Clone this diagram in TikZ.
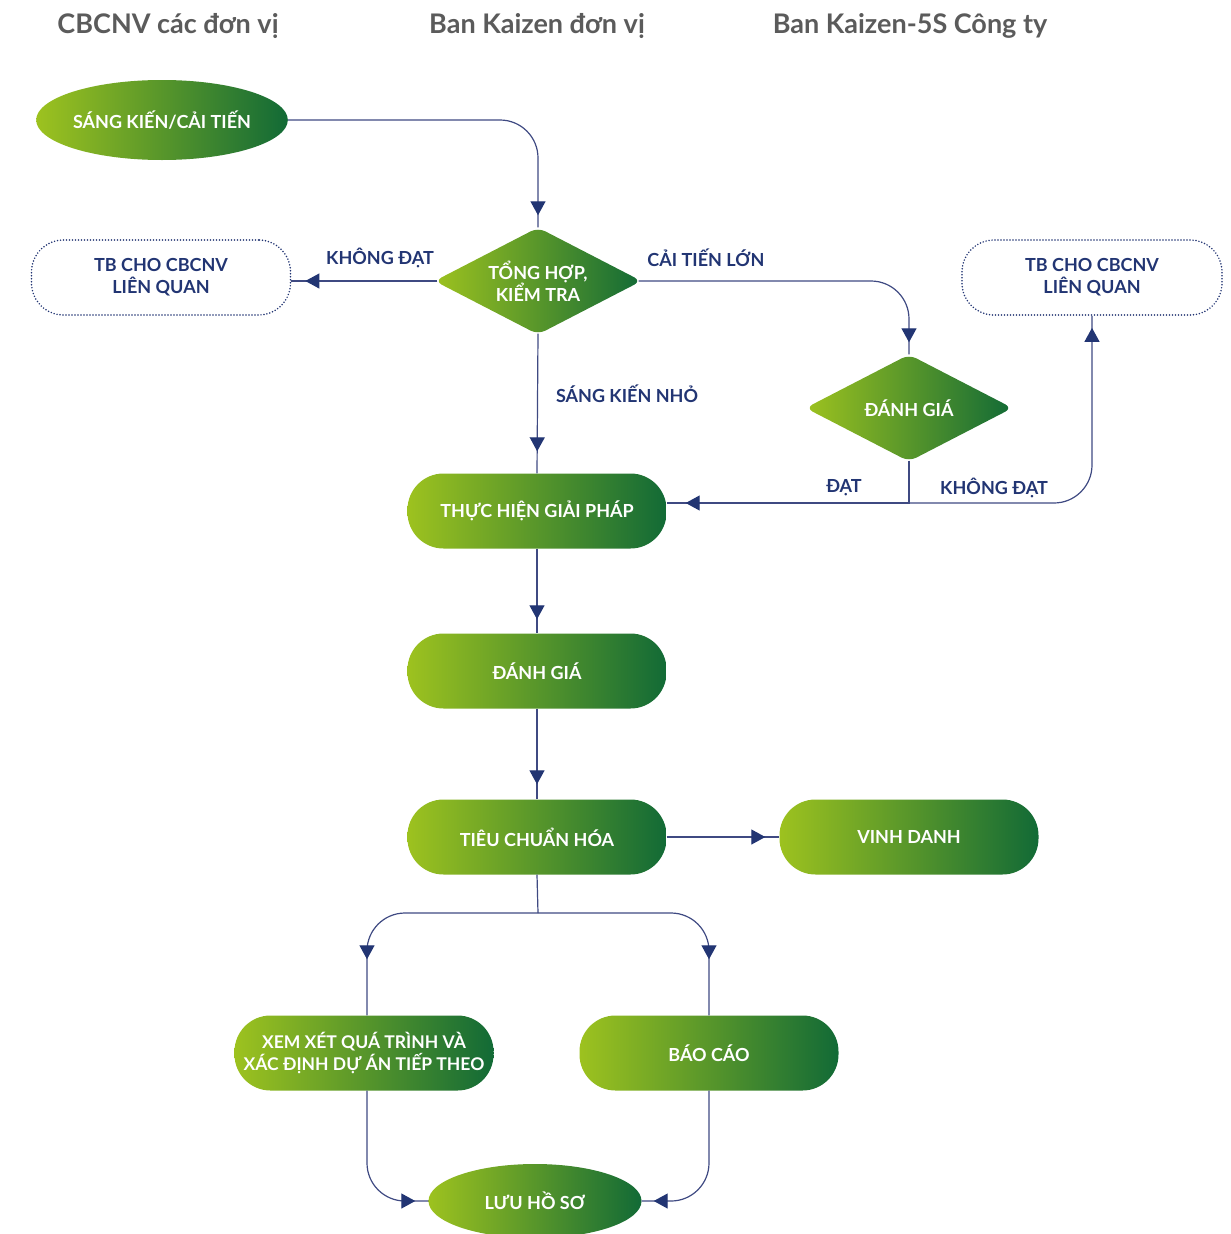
\documentclass[tikz,border=0pt]{standalone}
\usepackage{fontspec}
\setmainfont{Lato}
\usetikzlibrary{shapes.geometric,arrows.meta,decorations.markings}
\definecolor{gA}{HTML}{9DC21F}
\definecolor{gB}{HTML}{126A36}
\definecolor{navy}{HTML}{223573}
\definecolor{linec}{HTML}{3F4A82}
\definecolor{headc}{HTML}{5B5B5B}
\tikzset{
  green/.style={left color=gA, right color=gB, text=white, font=\fontsize{18}{22}\selectfont\bfseries, align=center, inner sep=0pt},
  pill/.style={green, rectangle, rounded corners=36pt, minimum width=259pt, minimum height=75pt},
  oval/.style={green, ellipse},
  dia/.style={green, diamond, shape aspect=2, rounded corners=8pt, minimum width=207pt, minimum height=107pt},
  notebox/.style={rectangle, rounded corners=32pt, draw=navy, line width=1.7pt, dash pattern=on 0pt off 3pt, line cap=round,
                  minimum width=259pt, minimum height=75pt, text=navy, font=\fontsize{18}{22}\selectfont\bfseries, align=center},
  lbl/.style={text=navy, font=\fontsize{18}{21}\selectfont\bfseries},
  head/.style={text=headc, font=\fontsize{27}{30}\selectfont\bfseries},
  link/.style={draw=linec, line width=1.2pt, postaction={decorate, decoration={markings,
     mark=at position -#1 with {\arrow{Triangle[width=15pt,length=14pt,color=navy]}}}}},
}
\begin{document}
\begin{tikzpicture}[x=1pt,y=-1pt]
\useasboundingbox (0,0) rectangle (1231,1234);

% column headings
\node[head] (h1) at (168,26) {CBCNV các đơn vị};
\node[head] (h2) at (537,26) {Ban Kaizen đơn vị};
\node[head] (h3) at (910,26) {Ban Kaizen-5S Công ty};

% process steps
\node[oval, minimum width=245pt, minimum height=80pt] (sang) at (162,120) {SÁNG KIẾN/CẢI TIẾN};
\node[dia] (tong) at (538,281) {TỔNG HỢP,\\KIỂM TRA};
\node[notebox] (tb1) at (161,277.5) {TB CHO CBCNV\\LIÊN QUAN};
\node[notebox, minimum width=260pt] (tb2) at (1092,277.5) {TB CHO CBCNV\\LIÊN QUAN};
\node[dia] (danh1) at (909,408) {ĐÁNH GIÁ};
\node[pill] (thuc) at (537,511) {THỰC HIỆN GIẢI PHÁP};
\node[pill] (danh2) at (537,671) {ĐÁNH GIÁ};
\node[pill] (tieu) at (537,837) {TIÊU CHUẨN HÓA};
\node[pill] (vinh) at (909,837) {VINH DANH};
\node[pill, font=\fontsize{17.5}{22}\selectfont\bfseries] (xem) at (364,1053) {XEM XÉT QUÁ TRÌNH VÀ\\XÁC ĐỊNH DỰ ÁN TIẾP THEO};
\node[pill] (bao) at (709,1053) {BÁO CÁO};
\node[oval, minimum width=213pt, minimum height=74pt] (luu) at (535,1201) {LƯU HỒ SƠ};

% visible tips of the rounded diamonds
\coordinate (tongW) at ([xshift=3pt]tong.west);
\coordinate (tongE) at ([xshift=-3pt]tong.east);
\coordinate (tongS) at ([yshift=1pt]tong.south);
\coordinate (danhS) at ([yshift=1pt]danh1.south);

% connectors
\draw[link=12pt, rounded corners=38pt] (sang.east) -| (tong.north);
\draw[link=14pt] (tongW) -- (tongW -| tb1.east);
\draw[link=12pt, rounded corners=38pt] (tongE) -| (danh1.north);
\draw[link=22pt] (tongS) -- (thuc.north);
\coordinate (jl) at ([yshift=8pt]thuc.east);
\coordinate (j) at (danhS |- jl);
\draw[link=19pt] (danhS) |- (jl);
\draw[link=12pt, rounded corners=38pt] (j) -| (tb2.south);
\draw[link=14pt] (thuc.south) -- (danh2.north);
\draw[link=15pt] (danh2.south) -- (tieu.north);
\draw[link=14pt] (tieu.east) -- (vinh.west);
\coordinate (split) at (538,913);
\draw[linec, line width=1.2pt] (tieu.south) -- (split);
\draw[link=56pt, rounded corners=38pt] (split) -| ([xshift=3pt]xem.north);
\draw[link=56pt, rounded corners=38pt] (split) -| (bao.north);
\draw[link=13pt, rounded corners=38pt] ([xshift=3pt]xem.south) |- (luu.west);
\draw[link=12pt, rounded corners=38pt] (bao.south) |- (luu.east);

% branch labels
\node[lbl] (l1) at (380,258) {KHÔNG ĐẠT};
\node[lbl] (l2) at (706,258) {CẢI TIẾN LỚN};
\node[lbl] (l3) at (627,394) {SÁNG KIẾN NHỎ};
\node[lbl] (l4) at (844,488) {ĐẠT};
\node[lbl] (l5) at (994,488) {KHÔNG ĐẠT};
\end{tikzpicture}
\end{document}
